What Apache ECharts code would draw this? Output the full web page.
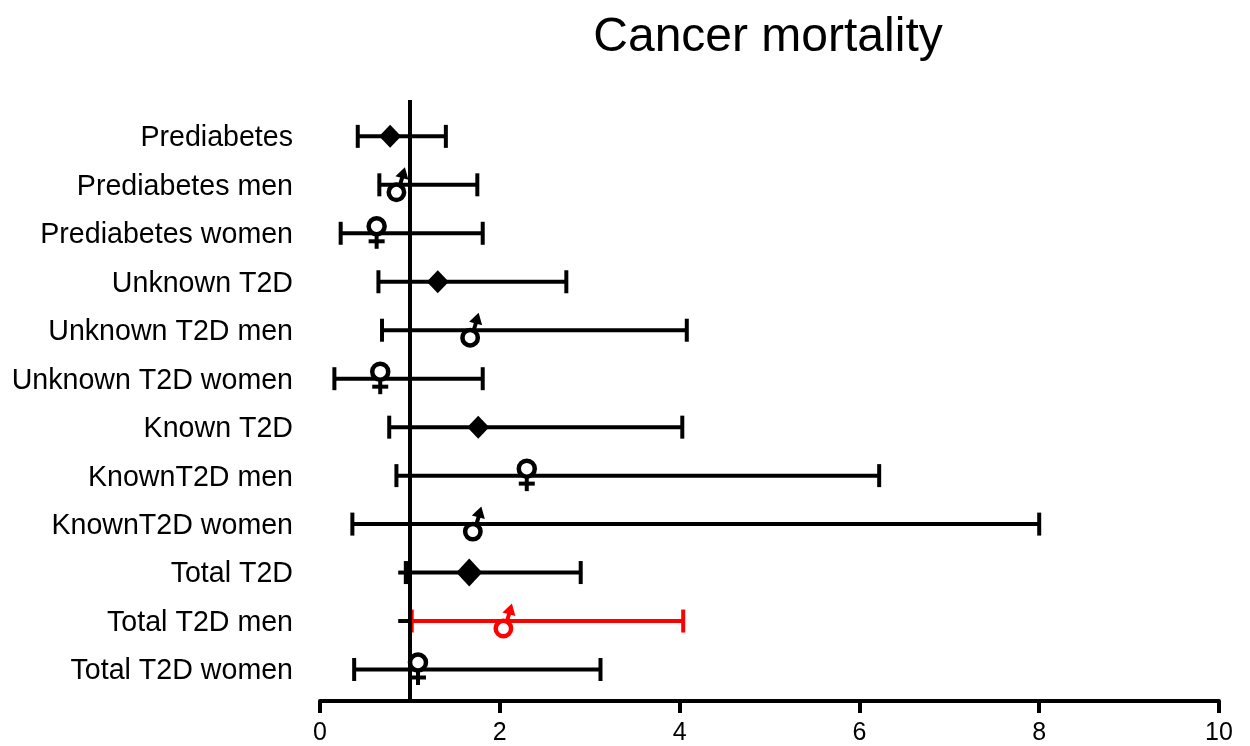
<!DOCTYPE html>
<html><head><meta charset="utf-8">
<style>html,body{margin:0;padding:0;background:#fff}#c{width:1250px;height:746px}</style>
<script src="https://cdn.jsdelivr.net/npm/echarts@6/dist/echarts.min.js"></script>
</head><body><div id="c"></div>
<script>
const categories = ['Prediabetes','Prediabetes men','Prediabetes women','Unknown T2D','Unknown T2D men','Unknown T2D women','Known T2D','KnownT2D men','KnownT2D women','Total T2D','Total T2D men','Total T2D women'];
const estimate = [0.78,0.85,0.63,1.31,1.67,0.67,1.76,2.30,1.70,1.66,2.04,1.09];
const lower    = [0.42,0.66,0.23,0.65,0.69,0.16,0.77,0.85,0.36,0.96,1.02,0.38];
const upper    = [1.40,1.75,1.81,2.74,4.08,1.81,4.03,6.22,8.00,2.90,4.04,3.12];
const glyph    = ['all','men','women','all','men','women','all','women','men','all','men','women'];
const stubLower = {'Total T2D':0.87,'Total T2D men':0.87};
const highlighted = 'Total T2D men';
const emphasised = 'Total T2D';
const xTicks = [0,2,4,6,8,10];
const rowIdx = categories.map((_,i)=>i);

const BLACK='#000', RED='#ff0000', LW=4;

function seg(x1,y1,x2,y2,c,w){return {type:'line',shape:{x1,y1,x2,y2},style:{stroke:c,lineWidth:w||LW,fill:null}};}

function renderInterval(params,api){
  const i=api.value(0), name=categories[i];
  const c=name===highlighted?RED:BLACK;
  const a=api.coord([lower[i],i]), b=api.coord([upper[i],i]), y=a[1];
  const ch=11.5, kids=[];
  if(stubLower[name]!==undefined){
    const s=api.coord([stubLower[name],i]);
    kids.push(seg(s[0],y,a[0],y,BLACK));
  }
  kids.push(seg(a[0],y,b[0],y,c));
  kids.push(seg(a[0],y-ch,a[0],y+ch,name===emphasised?BLACK:c, name===emphasised?5:LW));
  kids.push(seg(b[0],y-ch,b[0],y+ch,c));
  return {type:'group',children:kids};
}
function renderGlyph(params,api){
  const i=api.value(0), name=categories[i], kind=glyph[i];
  const c=name===highlighted?RED:BLACK;
  const p=api.coord([estimate[i],i]), x=p[0], y=p[1], kids=[];
  if(kind==='all'){
    const r=name===emphasised?13:11, h=name===emphasised?14:11.5;
    kids.push({type:'polygon',shape:{points:[[x-r,y],[x,y-h],[x+r,y],[x,y+h]]},style:{fill:c}});
  }else if(kind==='women'){
    kids.push(seg(x,y+1,x,y+15.5,c));
    kids.push(seg(x-8,y+8,x+8,y+8,c));
    kids.push({type:'circle',shape:{cx:x,cy:y-7,r:8},style:{fill:'#fff',stroke:c,lineWidth:4.5}});
  }else{
    kids.push(seg(x+3,y+2,x+6,y-8,c));
    kids.push({type:'polygon',shape:{points:[[x+8.5,y-17.5],[x-1,y-8.5],[x+12,y-5]]},style:{fill:c}});
    kids.push({type:'circle',shape:{cx:x,cy:y+7.5,r:7.7},style:{fill:'#fff',stroke:c,lineWidth:4.5}});
  }
  return {type:'group',children:kids};
}

const chart=echarts.init(document.getElementById('c'),null,{renderer:'canvas'});
chart.setOption({
  backgroundColor:'#fff',
  animation:false,
  title:{text:'Cancer mortality',left:763,top:9,textAlign:'center',
    textStyle:{fontFamily:'Liberation Sans',fontSize:48,fontWeight:'normal',color:'#000'}},
  grid:{left:320,right:31,top:100,bottom:45,containLabel:false},
  xAxis:{type:'value',min:0,max:10,interval:2,
    axisLine:{show:true,onZero:false,lineStyle:{color:'#000',width:4}},
    axisTick:{show:true,length:12,lineStyle:{color:'#000',width:4}},
    axisLabel:{show:true,color:'#000',fontFamily:'Liberation Sans',fontSize:25,margin:20,
      customValues:xTicks,showMinLabel:true,showMaxLabel:true},
    splitLine:{show:false}},
  yAxis:{type:'value',inverse:true,min:-0.75,max:11.65,
    axisLine:{show:false},axisTick:{show:false},splitLine:{show:false},
    axisLabel:{show:true,customValues:rowIdx,color:'#000',fontFamily:'Liberation Sans',fontSize:28.6,margin:27,
      showMinLabel:true,showMaxLabel:true,verticalAlign:'top',lineHeight:4,
      formatter:v=>categories[v]}},
  series:[
    {type:'custom',name:'interval',z:2,clip:false,renderItem:renderInterval,
      encode:{x:1,y:0},data:rowIdx.map(i=>[i,estimate[i]])},
    {type:'line',name:'reference',z:3,data:[],symbol:'none',
      markLine:{silent:true,symbol:'none',label:{show:false},animation:false,
        lineStyle:{color:'#000',width:4,type:'solid'},data:[{xAxis:1}]}},
    {type:'custom',name:'estimate',z:4,clip:false,renderItem:renderGlyph,
      encode:{x:1,y:0},data:rowIdx.map(i=>[i,estimate[i]])}
  ]
});
</script></body></html>
